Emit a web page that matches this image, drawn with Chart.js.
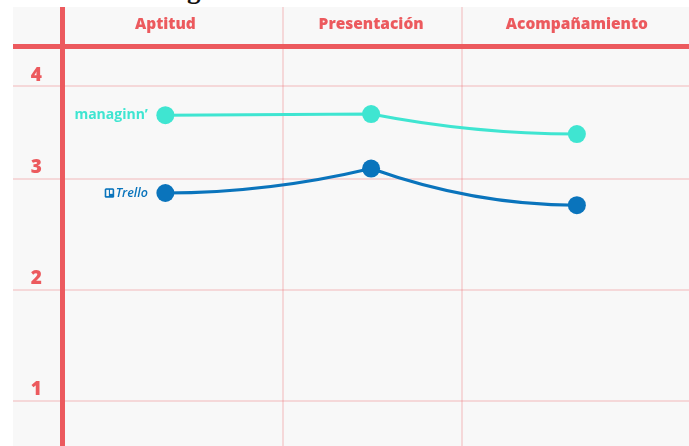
<!DOCTYPE html>
<html><head><meta charset="utf-8">
<script src="https://cdn.jsdelivr.net/npm/chart.js@4"></script>
<style>
html,body{margin:0;padding:0;background:#fff;}
body{width:689px;height:446px;position:relative;overflow:hidden;}
#title{position:absolute;left:14px;top:-24px;font:bold 27px/27px 'Liberation Serif',serif;color:#111;white-space:nowrap;}
#wrap{position:absolute;left:13px;top:7px;width:676px;height:439px;background:#f8f8f8;overflow:hidden;}
canvas{display:block;}
</style></head><body>
<div id="title">Trello vs Managinn’</div>
<div id="wrap"><canvas id="c" width="685" height="448"></canvas></div>
<script>
// ---- data ----
const categories = ['Aptitud', 'Presentación', 'Acompañamiento'];
const seriesNames = ['managinn’', 'Trello'];
const managinnValues = [3.57, 3.58, 3.40];
const trelloValues = [2.87, 3.09, 2.76];
const yTickValues = [1, 2, 3, 3.83];
const yTickLabels = ['1', '2', '3', '4'];

// ---- styles ----
const RED = '#ec5a5e';
const GRID = 'rgba(236,90,94,0.2)';
const TEAL = '#3fe5d1';
const BLUE = '#0a74bc';
const NONE = 'rgba(0,0,0,0)';
const Y_MIN = 0.5955, Y_MAX = 4.187;
const X_MIN = -0.5, X_MAX = 2.545;
const X_DIVIDERS = [X_MIN, 0.574, 1.44];

const toPoints = vals => categories.map((c, i) => ({ x: i, y: vals[i] }));

// curve shape: each segment eases into the lower-valued end (quadratic-style handles),
// computed from the point elements the library has positioned
const easedSegments = {
  id: 'easedSegments',
  beforeDatasetDraw(chart, args) {
    const meta = args.meta;
    if (!meta.dataset) return;
    meta.dataset.updateControlPoints(chart.chartArea, 'x');
    const pts = meta.data;
    for (let i = 0; i < pts.length - 1; i++) {
      const a = pts[i], b = pts[i + 1];
      const qx = (a.x + b.x) / 2, qy = Math.max(a.y, b.y);
      a.cp2x = a.x + (qx - a.x) * 2 / 3; a.cp2y = a.y + (qy - a.y) * 2 / 3;
      b.cp1x = b.x + (qx - b.x) * 2 / 3; b.cp1y = b.y + (qy - b.y) * 2 / 3;
    }
    meta.dataset._path = undefined;
  }
};

const seriesTags = {
  id: 'seriesTags',
  afterDatasetsDraw(chart) {
    const ctx = chart.ctx;
    chart.data.datasets.forEach((ds, i) => {
      const p = chart.getDatasetMeta(i).data[0];
      const xr = p.x - 17.5, y = p.y;
      ctx.save();
      ctx.fillStyle = ds.borderColor;
      ctx.textBaseline = 'middle';
      ctx.textAlign = 'right';
      if (i === 0) {
        ctx.font = "bold 14px 'Open Sans'";
        ctx.fillText(ds.label, xr, y);
      } else {
        ctx.font = "italic 600 12.5px 'Open Sans'";
        ctx.fillText(ds.label, xr, y + 0.5);
        const w = ctx.measureText(ds.label).width;
        const s = 9.5, ix = xr - w - 1.5 - s, iy = y - s / 2;
        ctx.beginPath();
        ctx.roundRect(ix, iy, s, s, 1.5);
        ctx.fill();
        ctx.fillStyle = '#f8f8f8';
        ctx.fillRect(ix + 1.6, iy + 1.6, 2.6, 6.2);
        ctx.fillRect(ix + 5.3, iy + 1.6, 2.6, 4);
      }
      ctx.restore();
    });
  }
};

const noEdgePadding = s => { s.paddingLeft = 0; s.paddingRight = 0; s.paddingTop = 0; s.paddingBottom = 0; };

new Chart(document.getElementById('c'), {
  type: 'line',
  data: {
    datasets: [
      { label: seriesNames[0], data: toPoints(managinnValues), borderColor: TEAL, backgroundColor: TEAL,
        pointBackgroundColor: TEAL, pointBorderWidth: 0, pointRadius: 9, pointHoverRadius: 9, borderWidth: 3, tension: 0.4 },
      { label: seriesNames[1], data: toPoints(trelloValues), borderColor: BLUE, backgroundColor: BLUE,
        pointBackgroundColor: BLUE, pointBorderWidth: 0, pointRadius: 9, pointHoverRadius: 9, borderWidth: 3, tension: 0.4 }
    ]
  },
  options: {
    responsive: false,
    animation: false,
    devicePixelRatio: 1,
    layout: { padding: 0 },
    plugins: { legend: { display: false }, tooltip: { enabled: false } },
    scales: {
      x: {
        type: 'linear', position: 'top', min: X_MIN, max: X_MAX, bounds: 'data',
        afterBuildTicks: s => {
          s.ticks = [...X_DIVIDERS, ...categories.map((c, i) => i)].sort((a, b) => a - b).map(v => ({ value: v }));
        },
        afterFit: s => { s.height = 39.5; noEdgePadding(s); },
        ticks: {
          autoSkip: false, maxRotation: 0, minRotation: 0, padding: -27, color: RED,
          font: { family: "'Open Sans'", weight: '800', size: 15.5 },
          callback: v => Number.isInteger(v) && v >= 0 ? categories[v] : ''
        },
        grid: {
          drawTicks: true, tickLength: 39.5,
          color: c => (c.tick && c.tick.value === X_MIN) ? RED : (c.tick && X_DIVIDERS.includes(c.tick.value) ? GRID : NONE),
          lineWidth: c => (c.tick && c.tick.value === X_MIN) ? 5 : 2
        },
        border: { display: false }
      },
      y: {
        type: 'linear', min: Y_MIN, max: Y_MAX, bounds: 'data',
        afterBuildTicks: s => { s.ticks = [...yTickValues, Y_MAX].map(v => ({ value: v })); },
        afterFit: s => { s.width = 49.5; noEdgePadding(s); },
        ticks: {
          padding: -29, labelOffset: -11, color: RED,
          font: { family: "'Open Sans'", weight: '800', size: 19 },
          callback: (v, i) => yTickLabels[i] ?? ''
        },
        grid: {
          drawTicks: true, tickLength: 49.5,
          color: c => (c.tick && c.tick.value === Y_MAX) ? RED : GRID,
          lineWidth: c => (c.tick && c.tick.value === Y_MAX) ? 5 : 2
        },
        border: { display: false }
      }
    }
  },
  plugins: [easedSegments, seriesTags]
});
</script>
</body></html>
